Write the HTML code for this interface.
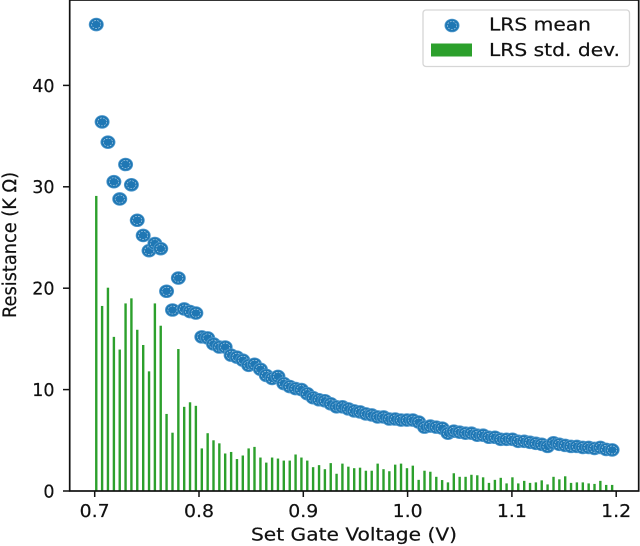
<!DOCTYPE html>
<html>
<head>
<meta charset="utf-8">
<style>
html,body{margin:0;padding:0;background:#fff;width:640px;height:546px;overflow:hidden}
svg{display:block}
text{font-family:"DejaVu Sans","Liberation Sans",sans-serif;fill:#111;stroke:#111;stroke-width:0.2}
#chart{filter:blur(0.35px)}
</style>
</head>
<body>
<svg id="chart" width="640" height="546" viewBox="0 0 640 546" xmlns="http://www.w3.org/2000/svg">
  <g id="bars"></g>
  <g id="points"></g>
  <rect x="69.7" y="0" width="569" height="491" fill="none" stroke="#111" stroke-width="1.7"/>
  <g id="xticks"></g>
  <g id="yticks"></g>
  <text x="354" y="540.5" text-anchor="middle" font-size="17.5" textLength="206" lengthAdjust="spacingAndGlyphs">Set Gate Voltage (V)</text>
  <text transform="translate(16,245) rotate(-90)" text-anchor="middle" font-size="18.5" textLength="146" lengthAdjust="spacingAndGlyphs">Resistance (K Ω)</text>
  <g>
    <rect x="423" y="10" width="206.5" height="56.5" rx="3" fill="#fff" fill-opacity="0.85" stroke="#d6d6d6" stroke-width="1.3"/>
    <g id="legend-marker"></g>
    <text x="489" y="30.5" font-size="17.5" textLength="102" lengthAdjust="spacingAndGlyphs">LRS mean</text>
    <rect x="431" y="43.5" width="41" height="13" fill="#2ca02c"/>
    <text x="489" y="56" font-size="17.5" textLength="131" lengthAdjust="spacingAndGlyphs">LRS std. dev.</text>
  </g>
</svg>
<script>
const voltages = [0.7015,0.7071,0.7127,0.7184,0.7240,0.7296,0.7352,0.7408,0.7465,0.7521,0.7577,0.7633,0.7689,0.7746,0.7802,0.7858,0.7914,0.7970,0.8027,0.8083,
0.8139,0.8195,0.8251,0.8308,0.8364,0.8420,0.8476,0.8532,0.8589,0.8645,0.8701,0.8757,0.8813,0.8870,0.8926,0.8982,0.9038,0.9094,0.9151,0.9207,
0.9263,0.9319,0.9375,0.9432,0.9488,0.9544,0.9600,0.9656,0.9713,0.9769,0.9825,0.9881,0.9937,0.9994,1.0050,1.0106,1.0162,1.0218,1.0275,1.0331,
1.0387,1.0443,1.0499,1.0556,1.0612,1.0668,1.0724,1.0780,1.0837,1.0893,1.0949,1.1005,1.1061,1.1118,1.1174,1.1230,1.1286,1.1342,1.1399,1.1455,
1.1511,1.1567,1.1623,1.1680,1.1736,1.1792,1.1848,1.1904,1.1961];
const lrsMean = [46.0,36.4,34.4,30.5,28.8,32.2,30.2,26.7,25.2,23.7,24.4,23.9,19.7,17.85,21.0,17.95,17.7,17.55,15.2,15.1,
14.5,14.2,14.2,13.4,13.2,12.9,12.4,12.5,12.0,11.4,11.1,11.3,10.6,10.3,10.1,10.0,9.6,9.2,9.0,8.9,
8.6,8.3,8.3,8.1,7.9,7.8,7.6,7.5,7.3,7.3,7.1,7.1,7.0,7.0,7.0,6.8,6.3,6.4,6.3,6.2,
5.7,5.9,5.8,5.7,5.7,5.5,5.5,5.3,5.3,5.1,5.1,5.1,4.9,4.9,4.8,4.7,4.6,4.4,4.75,4.6,
4.5,4.4,4.4,4.3,4.3,4.2,4.3,4.1,4.05];
const lrsStd = [29.1,18.25,20.05,15.2,13.95,18.5,19.0,15.9,14.4,11.8,18.5,16.3,7.6,5.75,14.0,8.3,8.75,8.4,4.2,5.7,
5.0,4.7,3.7,3.85,3.15,3.5,4.2,4.35,3.3,2.8,3.3,3.2,3.0,3.0,3.6,3.3,3.0,2.35,2.55,2.15,
2.75,1.7,2.7,2.4,2.25,2.3,2.0,2.0,2.7,2.15,1.95,2.6,2.7,2.25,2.5,1.1,2.0,1.9,1.4,1.08,
0.85,1.75,1.4,1.4,1.6,1.55,1.35,0.8,1.1,1.3,0.75,1.35,0.75,1.0,0.8,0.85,1.05,0.65,1.4,1.15,
1.45,0.8,0.85,0.85,0.75,0.7,1.0,0.6,0.6];
const xTickValues = [0.7,0.8,0.9,1.0,1.1,1.2];
const yTickValues = [0,10,20,30,40];

const NS = 'http://www.w3.org/2000/svg';
function sx(v){ return 94.7 + (v - 0.7) * 1043; }
function sy(v){ return 491 - v * 10.14; }
function mk(tag, parent, attrs){
  const el = document.createElementNS(NS, tag);
  for (const k in attrs) el.setAttribute(k, attrs[k]);
  parent.appendChild(el);
  return el;
}
function drawMarker(parent, cx, cy){
  const g = mk('g', parent, {});
  
  
  mk('ellipse', g, {cx:cx, cy:cy, rx:7.1, ry:6.4, fill:'#1f77b4', stroke:'#4f98cc', 'stroke-width':0.8});
  mk('ellipse', g, {cx:cx, cy:cy, rx:4.6, ry:4.0, fill:'none', stroke:'#cfe3f1', 'stroke-width':0.55, 'stroke-dasharray':'1.8 1.2'});
}

const barsG = document.getElementById('bars');
lrsStd.forEach(function(v, i){
  const r = mk('rect', barsG, {x:sx(voltages[i]) - 1.2, y:sy(v), width:2.4, height:491 - sy(v), fill:'#2ca02c'});
  
  
});
const pointsG = document.getElementById('points');
lrsMean.forEach(function(v, i){
  drawMarker(pointsG, sx(voltages[i]), sy(v));
});
drawMarker(document.getElementById('legend-marker'), 452, 25.5);

const xG = document.getElementById('xticks');
xTickValues.forEach(function(v){
  const x = sx(v);
  const t = mk('line', xG, {x1:x, x2:x, y1:491, y2:497, stroke:'#111', 'stroke-width':1.5});
  
  
  const l = mk('text', xG, {x:x, y:517, 'text-anchor':'middle', 'font-size':17.5, textLength:30, lengthAdjust:'spacingAndGlyphs'});
  
  
  l.textContent = v.toFixed(1);
});
const yG = document.getElementById('yticks');
yTickValues.forEach(function(v){
  const y = sy(v);
  const t = mk('line', yG, {x1:63, x2:69.7, y1:y, y2:y, stroke:'#111', 'stroke-width':1.5});
  
  
  const l = mk('text', yG, {x:54.5, y:y + 6.4, 'text-anchor':'end', 'font-size':17.5});
  
  
  l.textContent = String(v);
});
</script>
</body>
</html>
